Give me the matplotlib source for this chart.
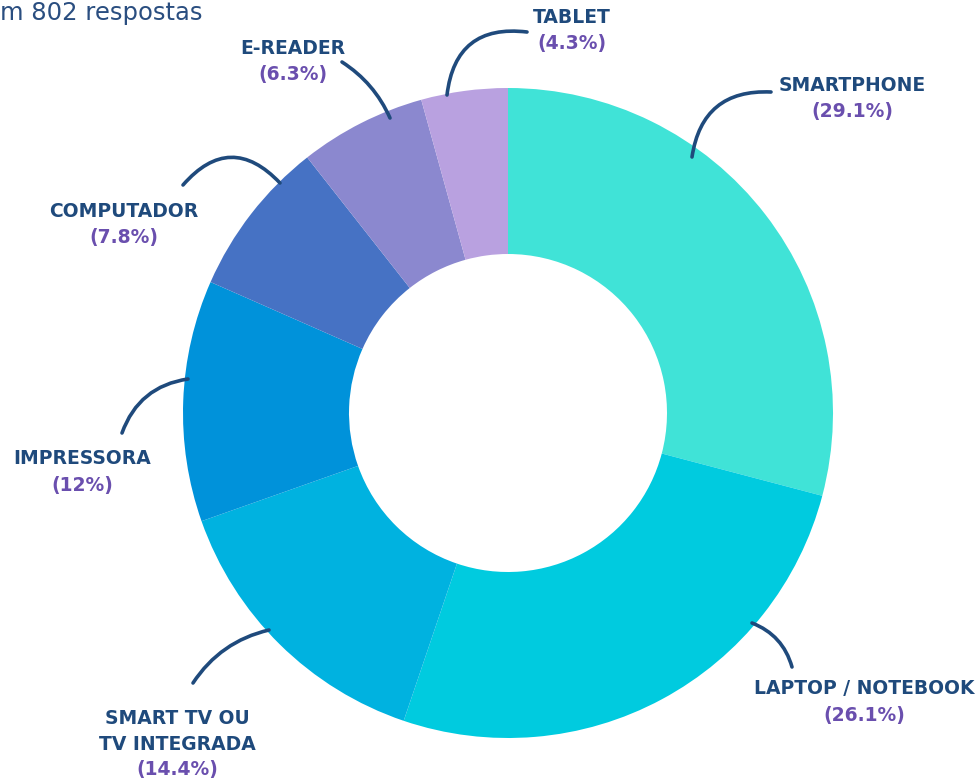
import matplotlib
matplotlib.use("Agg")
import matplotlib.pyplot as plt

# dados
categorias = ["SMARTPHONE", "LAPTOP / NOTEBOOK", "SMART TV OU\nTV INTEGRADA",
              "IMPRESSORA", "COMPUTADOR", "E-READER", "TABLET"]
percentuais = [29.1, 26.1, 14.4, 12, 7.8, 6.3, 4.3]
rotulos_pct = ["(29.1%)", "(26.1%)", "(14.4%)", "(12%)", "(7.8%)", "(6.3%)", "(4.3%)"]
cores = ["#40E3D7", "#00CBDF", "#00B2E0", "#0092DA", "#4672C4", "#8B88CF", "#B9A1E0"]

W, H = 978, 778
cor_nome = "#1F4A7C"
cor_pct = "#6A4FAE"
cor_linha = "#1F4A7C"

fig = plt.figure(figsize=(W / 100, H / 100), dpi=100)
ax = fig.add_axes([0, 0, 1, 1])


def py(y):
    # pixel y (de cima) -> coordenada do eixo
    return H - y


ax.pie(percentuais, colors=cores, startangle=90, counterclock=False,
       center=(508, py(413)), radius=325,
       wedgeprops=dict(width=166, edgecolor="none"), frame=True)
ax.set_xlim(0, W)
ax.set_ylim(0, H)
ax.set_aspect("equal")
ax.axis("off")

# posição dos rótulos (x centro, y da primeira linha em px)
pos_rotulos = [(852, 85), (864, 689), (177, 718), (82, 459), (124, 211), (293, 48), (572, 17)]
for nome, pct, (x, y) in zip(categorias, rotulos_pct, pos_rotulos):
    linhas = nome.split("\n")
    for i, l in enumerate(linhas):
        ax.text(x, py(y + 26 * i), l, ha="center", va="center", fontsize=13.5,
                fontweight="bold", color=cor_nome, family="DejaVu Sans")
    ax.text(x, py(y + 26 * len(linhas)), pct, ha="center", va="center", fontsize=13.5,
            fontweight="bold", color=cor_pct, family="DejaVu Sans")

# linhas de ligação (início, fim, curvatura)
conectores = [
    ((692, 157), (771, 92), -0.45),
    ((752, 623), (792, 667), -0.25),
    ((269, 630), (193, 683), 0.2),
    ((188, 379), (122, 433), 0.3),
    ((280, 183), (183, 185), 0.55),
    ((390, 118), (342, 62), 0.15),
    ((447, 95), (527, 32), -0.5),
]
for (x0, y0), (x1, y1), rad in conectores:
    ax.annotate("", xy=(x1, py(y1)), xytext=(x0, py(y0)),
                arrowprops=dict(arrowstyle="-", color=cor_linha, lw=2.6,
                                connectionstyle=f"arc3,rad={rad}",
                                shrinkA=0, shrinkB=0))

ax.text(0, py(13), "m 802 respostas", ha="left", va="center", fontsize=17.5,
        color="#2A4E80", family="DejaVu Sans")

fig.savefig("out.png", dpi=100, facecolor="white")
